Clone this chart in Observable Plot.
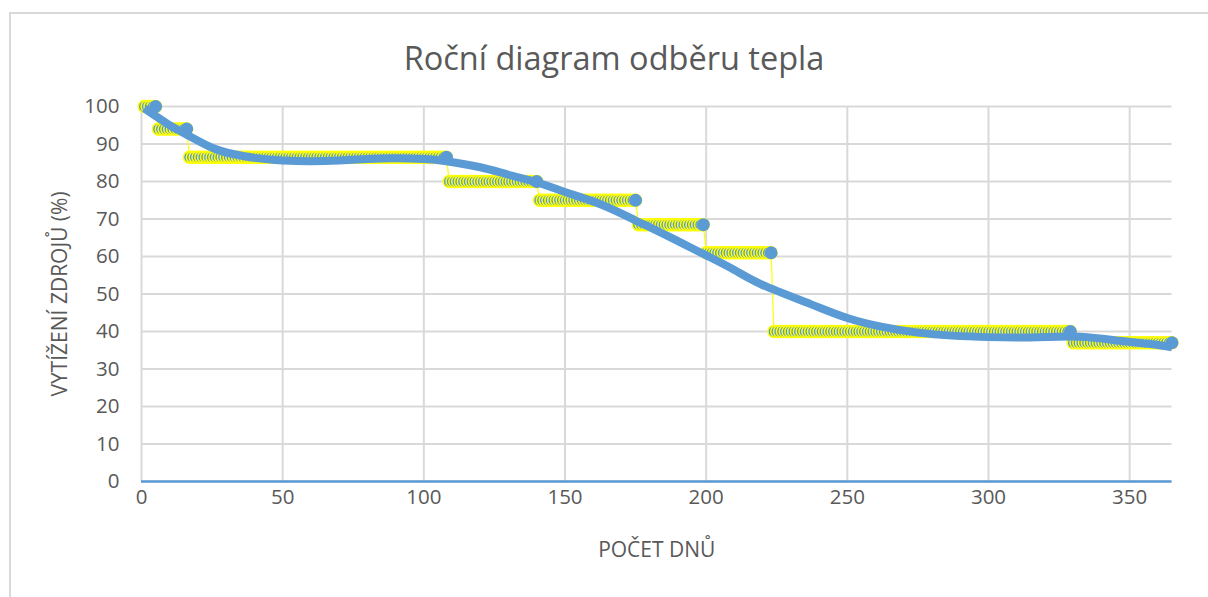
<!DOCTYPE html>
<html>
<head>
<meta charset="utf-8">
<script src="https://cdn.jsdelivr.net/npm/d3@7"></script>
<script src="https://cdn.jsdelivr.net/npm/@observablehq/plot@0.6"></script>
<style>
  html, body { margin: 0; padding: 0; background: #fff; width: 1208px; height: 597px; overflow: hidden; }
  #frame { position: absolute; left: 9px; top: 12px; width: 1300px; height: 700px; border: 2px solid #d9d9d9; box-sizing: border-box; }
  #title { position: absolute; left: 0; top: 36px; width: 1228px; text-align: center; font-family: "Open Sans", sans-serif; font-size: 32.5px; line-height: 44px; color: #595959; }
  #chart { position: absolute; left: 0; top: 80px; }
</style>
</head>
<body>
<div id="frame"></div>
<div id="title">Roční diagram odběru tepla</div>
<div id="chart"></div>
<script>
// Step data: last day of each step and its load value (%)
const stepEndDays = [5, 16, 108, 140, 175, 199, 223, 329, 365];
const stepValues  = [100, 94, 86.5, 80, 75, 68.5, 61, 40, 37];

// Polynomial trend line (day, %)
const trendDays   = [1, 10, 16, 25, 32, 40, 50, 60, 70, 80, 90, 100, 108, 120, 130, 140, 150, 163, 175, 180, 190, 200, 210, 220, 237, 250, 262, 275, 287, 300, 312, 325, 335, 348, 358, 365];
const trendValues = [99.5, 95, 92.5, 89, 87.4, 86.3, 85.6, 85.4, 85.6, 86, 86.2, 86, 85.4, 83.8, 81.8, 79.8, 77.2, 73.8, 69.6, 67.8, 64.1, 60.3, 56.4, 52.4, 47.3, 43.6, 41.3, 39.7, 38.9, 38.5, 38.4, 38.6, 38.5, 37.4, 36.6, 35.8];

const xTicks = [0, 50, 100, 150, 200, 250, 300, 350];
const yTicks = [0, 10, 20, 30, 40, 50, 60, 70, 80, 90, 100];

const xTitle = "POČET DNŮ";
const yTitle = "VYTÍŽENÍ ZDROJŮ (%)";

// expand the steps into one record per day
const days = [];
let start = 1;
stepEndDays.forEach((end, i) => {
  for (let d = start; d <= end; d++) days.push({day: d, load: stepValues[i]});
  start = end + 1;
});
const ends = stepEndDays.map((d, i) => ({day: d, load: stepValues[i]}));
const trend = trendDays.map((d, i) => ({day: d, load: trendValues[i]}));

const blue = "#5B9BD5";
const yellow = "#FFFF00";
const textColor = "#595959";
const gridColor = "#d9d9d9";

const chart = Plot.plot({
  width: 1208,
  height: 500,
  marginLeft: 141,
  marginRight: 36.5,
  marginTop: 26,
  marginBottom: 99,
  style: {fontFamily: "'Open Sans', sans-serif", fontSize: "20px", color: textColor, background: "transparent", overflow: "visible"},
  x: {domain: [0, 365]},
  y: {domain: [0, 100]},
  marks: [
    Plot.gridX(xTicks, {stroke: gridColor, strokeOpacity: 1, strokeWidth: 2}),
    Plot.gridY(yTicks, {stroke: gridColor, strokeOpacity: 1, strokeWidth: 2}),
    Plot.axisX(xTicks, {tickSize: 0, tickPadding: 8, fill: textColor, fontSize: 20.5, label: null}),
    Plot.axisY(yTicks, {tickSize: 0, tickPadding: 22, fill: textColor, fontSize: 20.5, label: null}),
    Plot.ruleY([0], {stroke: blue, strokeWidth: 2.5}),
    Plot.line(days, {x: "day", y: "load", stroke: yellow, strokeWidth: 1.2}),
    Plot.dot(days, {x: "day", y: "load", r: 6, fill: blue, stroke: yellow, strokeWidth: 1.5}),
    Plot.dot(ends, {x: "day", y: "load", r: 6.5, fill: blue}),
    Plot.line(trend, {x: "day", y: "load", curve: "natural", stroke: blue, strokeWidth: 8, strokeLinecap: "butt"}),
    Plot.text([xTitle], {frameAnchor: "bottom", dy: 69, fill: textColor, fontSize: 21, lineAnchor: "middle", textAnchor: "middle"}),
    Plot.text([yTitle], {frameAnchor: "left", dx: -81, rotate: -90, fill: textColor, fontSize: 21, lineAnchor: "middle", textAnchor: "middle"})
  ]
});
document.getElementById("chart").appendChild(chart);
</script>
</body>
</html>
